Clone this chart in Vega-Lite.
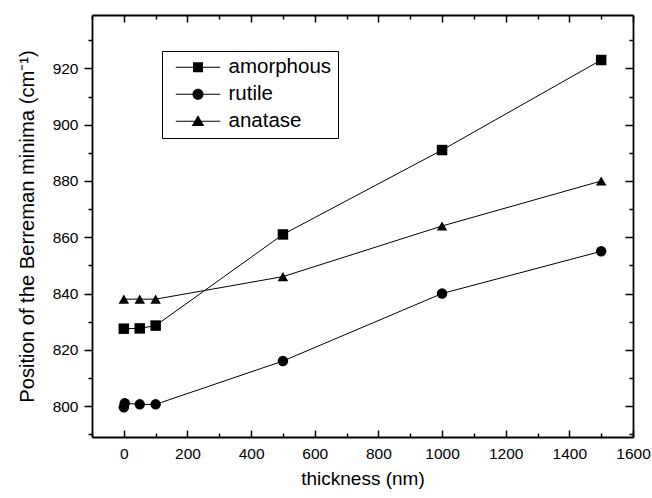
{
  "$schema": "https://vega.github.io/schema/vega-lite/v6.json",
  "width": 541,
  "height": 422,
  "autosize": {"type": "none"},
  "padding": {"left": 92, "top": 15, "right": 19, "bottom": 61},
  "config": {
    "font": "Liberation Sans",
    "view": {"stroke": null},
    "axis": {
      "grid": false,
      "domainColor": "black",
      "tickColor": "black",
      "labelColor": "black",
      "titleColor": "black",
      "domainWidth": 1.8,
      "tickWidth": 1.5,
      "labelFontWeight": "normal",
      "titleFontWeight": "normal",
      "labelFlush": false,
      "labelOverlap": false
    }
  },
  "data": {
    "values": [
      {"series": "amorphous", "thickness": 0, "position": 827.5},
      {"series": "amorphous", "thickness": 50, "position": 827.6},
      {"series": "amorphous", "thickness": 100, "position": 828.6},
      {"series": "amorphous", "thickness": 500, "position": 861},
      {"series": "amorphous", "thickness": 1000, "position": 891},
      {"series": "amorphous", "thickness": 1500, "position": 923},
      {"series": "rutile", "thickness": 0, "position": 799.6},
      {"series": "rutile", "thickness": 3, "position": 801},
      {"series": "rutile", "thickness": 50, "position": 800.6},
      {"series": "rutile", "thickness": 100, "position": 800.6},
      {"series": "rutile", "thickness": 500, "position": 816},
      {"series": "rutile", "thickness": 1000, "position": 840},
      {"series": "rutile", "thickness": 1500, "position": 855},
      {"series": "anatase", "thickness": 0, "position": 838},
      {"series": "anatase", "thickness": 50, "position": 838},
      {"series": "anatase", "thickness": 100, "position": 838},
      {"series": "anatase", "thickness": 500, "position": 846},
      {"series": "anatase", "thickness": 1000, "position": 864},
      {"series": "anatase", "thickness": 1500, "position": 880}
    ]
  },
  "resolve": {"axis": {"x": "independent", "y": "independent"}, "scale": {"shape": "independent"}},
  "layer": [
    {
      "mark": {"type": "line", "color": "black", "strokeWidth": 1},
      "encoding": {
        "x": {
          "field": "thickness", "type": "quantitative",
          "scale": {"domain": [-100, 1600], "nice": false, "zero": false},
          "axis": {
            "orient": "bottom",
            "values": [0, 200, 400, 600, 800, 1000, 1200, 1400, 1600],
            "format": "d",
            "tickSize": -7,
            "labelFontSize": 15.5,
            "labelPadding": 16,
            "title": "thickness (nm)",
            "titleFontSize": 19,
            "titlePadding": 8
          }
        },
        "y": {
          "field": "position", "type": "quantitative",
          "scale": {"domain": [789, 939], "nice": false, "zero": false},
          "axis": {
            "orient": "left",
            "values": [800, 820, 840, 860, 880, 900, 920],
            "tickSize": 8,
            "labelFontSize": 15.5,
            "labelPadding": 6,
            "title": "Position of the Berreman minima (cm⁻¹)",
            "titleFontSize": 20.2,
            "titlePadding": 15
          }
        },
        "detail": {"field": "series"}
      }
    },
    {
      "mark": {"type": "point", "filled": true, "fill": "black", "opacity": 1, "size": 110},
      "encoding": {
        "x": {
          "field": "thickness", "type": "quantitative",
          "scale": {"domain": [-100, 1600], "nice": false, "zero": false},
          "axis": {
            "orient": "bottom",
            "values": [-100, 100, 300, 500, 700, 900, 1100, 1300, 1500],
            "tickSize": -4,
            "labels": false,
            "domain": false,
            "title": null
          }
        },
        "y": {
          "field": "position", "type": "quantitative",
          "scale": {"domain": [789, 939], "nice": false, "zero": false},
          "axis": {
            "orient": "left",
            "values": [790, 810, 830, 850, 870, 890, 910, 930],
            "tickSize": 4,
            "labels": false,
            "domain": false,
            "title": null
          }
        },
        "shape": {
          "field": "series", "type": "nominal",
          "scale": {"domain": ["amorphous", "rutile", "anatase"], "range": ["square", "circle", "triangle-up"]},
          "legend": null
        }
      }
    },
    {
      "mark": {"type": "point", "opacity": 0},
      "encoding": {
        "x": {
          "field": "thickness", "type": "quantitative",
          "scale": {"domain": [-100, 1600], "nice": false, "zero": false},
          "axis": {
            "orient": "top",
            "values": [0, 200, 400, 600, 800, 1000, 1200, 1400, 1600],
            "tickSize": -7,
            "labels": false,
            "title": null
          }
        },
        "y": {
          "field": "position", "type": "quantitative",
          "scale": {"domain": [789, 939], "nice": false, "zero": false},
          "axis": {
            "orient": "right",
            "values": [800, 820, 840, 860, 880, 900, 920],
            "tickSize": -8,
            "labels": false,
            "title": null
          }
        }
      }
    },
    {
      "mark": {"type": "point", "opacity": 0},
      "encoding": {
        "x": {
          "field": "thickness", "type": "quantitative",
          "scale": {"domain": [-100, 1600], "nice": false, "zero": false},
          "axis": {
            "orient": "top",
            "values": [-100, 100, 300, 500, 700, 900, 1100, 1300, 1500],
            "tickSize": -4,
            "labels": false,
            "domain": false,
            "title": null
          }
        },
        "y": {
          "field": "position", "type": "quantitative",
          "scale": {"domain": [789, 939], "nice": false, "zero": false},
          "axis": {
            "orient": "right",
            "values": [790, 810, 830, 850, 870, 890, 910, 930],
            "tickSize": -4,
            "labels": false,
            "domain": false,
            "title": null
          }
        }
      }
    },
    {
      "transform": [{"filter": "datum.thickness < -1000"}],
      "mark": {"type": "point", "filled": true, "fill": "black", "opacity": 1, "size": 121},
      "encoding": {
        "x": {
          "field": "thickness", "type": "quantitative",
          "scale": {"domain": [-100, 1600], "nice": false, "zero": false},
          "axis": null
        },
        "y": {
          "field": "position", "type": "quantitative",
          "scale": {"domain": [789, 939], "nice": false, "zero": false},
          "axis": null
        },
        "shape": {
          "field": "series", "type": "nominal",
          "scale": {
            "domain": ["amorphous", "rutile", "anatase"],
            "range": [
              "M-0.456,-0.1H7.63V0.1H-0.456ZM2.68,-0.93H4.5V0.93H2.68Z",
              "M-0.456,-0.1H7.63V0.1H-0.456ZM4.59,0C4.59,0.553 4.18,1.0 3.59,1.0C3.04,1.0 2.59,0.553 2.59,0C2.59,-0.553 3.04,-1.0 3.59,-1.0C4.18,-1.0 4.59,-0.553 4.59,0Z",
              "M-0.456,-0.1H7.63V0.1H-0.456ZM3.59,-1.1L4.75,0.85L2.43,0.85Z"
            ]
          },
          "legend": {
            "orient": "none",
            "legendX": 70,
            "legendY": 36,
            "title": "\u00a0\u00a0",
            "titleOrient": "right",
            "titleFontSize": 20,
            "titlePadding": 0,
            "strokeColor": "black",
            "fillColor": "white",
            "padding": 6,
            "labelFontSize": 20.5,
            "labelColor": "black",
            "labelOffset": 40,
            "symbolSize": 121,
            "symbolFillColor": "black",
            "symbolOpacity": 1,
            "rowPadding": 6
          }
        }
      }
    }
  ]
}
